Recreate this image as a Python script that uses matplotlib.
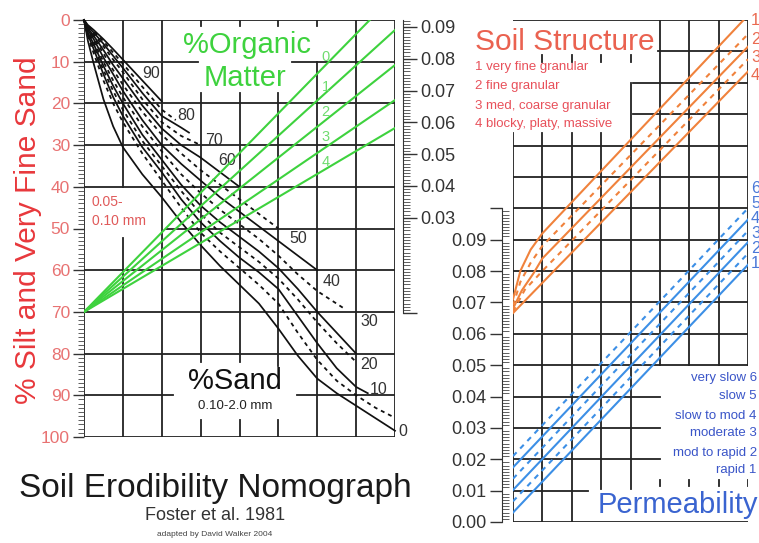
import matplotlib
matplotlib.use('Agg')
import numpy as np
import matplotlib.pyplot as plt
from matplotlib.ticker import FixedLocator, MultipleLocator

plt.rcParams['font.family'] = ['Liberation Sans', 'DejaVu Sans']

# ---- left panel: % silt + vfs (y) against grid column (x) ----
silt_ticks = [0, 10, 20, 30, 40, 50, 60, 70, 80, 90, 100]
k_ticks = [0.0, 0.03, 0.04, 0.05, 0.06, 0.07, 0.08, 0.09]
k_labels = ['', '0.03', '0.04', '0.05', '0.06', '0.07', '0.08', '0.09']

# %sand curves, upper-right to lower-left (col, %silt)
sand_cols = [0, 0.1, 0.25, 0.5, 0.75, 1, 1.5, 2, 2.5, 3, 3.5, 4, 4.5, 5,
             5.5, 6, 6.5, 7, 7.5, 8]
sand_1_x = sand_cols[:8]
sand_1_y = [0, 1.2, 2.4, 4.6, 7.0, 9.5, 14.5, 19.5]
sand_2_x = sand_cols[:8] + [2.36]
sand_2_y = [0, 1.4, 2.7, 5.1, 7.8, 10.5, 16.0, 21.5, 24.0]
sand_3_x = sand_cols[:9] + [2.7]
sand_3_y = [0, 1.6, 3.0, 5.7, 8.6, 11.5, 17.5, 23.0, 25.8, 27.0]
sand_4_x = sand_cols[:10]
sand_4_y = [0, 1.8, 3.4, 6.3, 9.5, 12.5, 19.0, 24.5, 27.8, 30.0]
sand_5_x = sand_cols[:12]
sand_5_y = [0, 2.0, 3.8, 7.2, 10.8, 14.0, 20.5, 26.0, 30.0, 33.0, 36.5, 40.0]
sand_6_x = sand_cols[:14]
sand_6_y = [0, 2.2, 4.2, 8.0, 12.0, 15.5, 22.0, 27.5, 32.0, 36.0, 39.5, 43.0,
            46.5, 50.0]
sand_7_x = sand_cols[:16]
sand_7_y = [0, 2.4, 4.6, 9.0, 13.0, 17.0, 24.0, 30.0, 34.5, 38.5, 42.5, 46.0,
            49.5, 53.0, 56.5, 60.0]
sand_8_x = sand_cols[:16] + [6.66]
sand_8_y = [0, 2.7, 5.2, 10.0, 14.5, 18.5, 25.5, 31.5, 37.0, 41.5, 45.5, 49.0,
            52.5, 56.5, 61.0, 65.0, 69.0]
sand_9_x = sand_cols[:18]
sand_9_y = [0, 3.0, 5.8, 11.0, 15.8, 20.0, 27.5, 33.5, 39.5, 44.5, 48.5, 52.0,
            55.5, 59.5, 64.5, 70.0, 75.0, 80.0]
sand_10_x = sand_cols[:18]
sand_10_y = [0, 3.2, 6.3, 12.0, 17.0, 21.5, 29.0, 35.0, 41.0, 46.5, 51.0, 54.5,
             58.0, 62.0, 67.0, 72.5, 77.5, 82.0]
sand_11_x = sand_cols[:18] + [7.3]
sand_11_y = [0, 3.5, 7.0, 13.0, 18.5, 23.0, 30.5, 36.5, 43.0, 48.5, 53.0, 57.0,
             60.5, 64.5, 71.0, 77.5, 83.5, 88.0, 89.5]
sand_12_x = sand_cols
sand_12_y = [0, 4.0, 8.0, 14.5, 20.0, 24.5, 32.0, 38.5, 45.0, 51.0, 55.5, 59.5,
             63.5, 68.0, 75.0, 81.5, 86.5, 90.0, 93.0, 95.4]
sand_13_x = sand_cols
sand_13_y = [0, 5.0, 10.5, 19.0, 25.5, 30.5, 37.0, 42.5, 48.5, 54.0, 59.0, 63.5,
             68.0, 74.0, 80.5, 86.0, 89.5, 92.5, 95.5, 98.5]

sand_labels = ['90', '80', '70', '60', '50', '40', '30', '20', '10', '0']
sand_label_x = [1.72, 2.62, 3.34, 3.68, 5.50, 6.38, 7.33, 7.33, 7.58, 8.20]
sand_label_y = [12.9, 22.8, 28.8, 33.6, 52.5, 62.6, 72.4, 82.7, 88.7, 98.8]

# organic matter lines, all from (0, 70)
om_labels = ['0', '1', '2', '3', '4']
om_end_x = [7.35, 8, 8, 8, 8]
om_end_y = [0, 2.4, 10.8, 19.2, 25.9]
om_label_y = [8.9, 16.1, 22.1, 28.1, 34.1]

# ---- right panel: K (y) ----
k2_ticks = [0.0, 0.01, 0.02, 0.03, 0.04, 0.05, 0.06, 0.07, 0.08, 0.09, 0.10]
k2_labels = ['0.00', '0.01', '0.02', '0.03', '0.04', '0.05', '0.06', '0.07',
             '0.08', '0.09', '']

struct_a_x = [0, 0.25, 0.6, 1.0, 7.85]
struct_a_y = [0.071, 0.0800, 0.0868, 0.0920, 0.160]
struct_b_x = [0, 0.25, 0.6, 1.0, 8]
struct_b_y = [0.069, 0.0765, 0.0826, 0.0880, 0.1555]
struct_c_x = [0, 0.3, 0.7, 1.0, 8]
struct_c_y = [0.068, 0.0738, 0.0793, 0.0840, 0.1515]
struct_d_x = [0, 0.4, 1.0, 8]
struct_d_y = [0.067, 0.0740, 0.0800, 0.1475]
struct_e_x = [0, 8]
struct_e_y = [0.0666, 0.1436]
struct_labels = ['1 very fine granular', '2 fine granular',
                 '3 med, coarse granular', '4 blocky, platy, massive']

perm_x = [0, 8]
perm_6 = [0.021, 0.100]
perm_5 = [0.0174, 0.0964]
perm_4 = [0.0138, 0.0928]
perm_3 = [0.0102, 0.0892]
perm_2 = [0.0066, 0.0856]
perm_1 = [0.003, 0.082]
perm_labels = ['very slow 6', 'slow 5', 'slow to mod 4', 'moderate 3',
               'mod to rapid 2', 'rapid 1']

W, H = 759, 543
fig = plt.figure(figsize=(W / 100, H / 100), dpi=100)

GRID = dict(color='#222222', lw=1.3, zorder=1)
SOLID = dict(color='#111111', lw=1.25, zorder=2, solid_joinstyle='round')
DASH = dict(color='#111111', lw=1.3, ls=(0, (2.2, 2.2)), zorder=2)
GREEN = '#3ed23e'

# ================= left panel =================
axL = fig.add_axes([84 / W, 1 - 437 / H, 311 / W, 417 / H])
axL.set_xlim(0, 8)
axL.set_ylim(100, 0)
for s in axL.spines.values():
    s.set_visible(False)
axL.set_xticks([])
axL.yaxis.set_major_locator(FixedLocator(silt_ticks))
axL.yaxis.set_minor_locator(MultipleLocator(1))
axL.tick_params(axis='y', which='major', length=8, width=1, color='#333333',
                labelsize=12.5, labelcolor='#e87272', pad=2)
axL.tick_params(axis='y', which='minor', length=4.5, width=0.6, color='#444444')

# grid with the gaps left for the labels
hseg = {10: [(0, 2.93), (5.35, 8)], 50: [(2.1, 8)], 90: [(0, 2.29), (5.48, 8)]}
for v in silt_ticks:
    for x0, x1 in hseg.get(v, [(0, 8)]):
        axL.plot([x0, x1], [v, v], **GRID)
vseg = {1: [(0, 40), (52.3, 100)], 3: [(0, 1.5), (17.5, 82), (96, 100)],
        4: [(0, 1.5), (17.5, 82), (96, 100)], 5: [(0, 1.5), (17.5, 83), (96, 100)],
        6: [(0, 1.5), (10, 100)]}
for c in range(9):
    for y0, y1 in vseg.get(c, [(0, 100)]):
        axL.plot([c, c], [y0, y1], **GRID)

sand_sets = [(sand_1_x, sand_1_y, SOLID), (sand_2_x, sand_2_y, DASH),
             (sand_3_x, sand_3_y, SOLID), (sand_4_x, sand_4_y, DASH),
             (sand_5_x, sand_5_y, SOLID), (sand_6_x, sand_6_y, DASH),
             (sand_7_x, sand_7_y, SOLID), (sand_8_x, sand_8_y, DASH),
             (sand_9_x, sand_9_y, SOLID), (sand_10_x, sand_10_y, DASH),
             (sand_11_x, sand_11_y, SOLID), (sand_12_x, sand_12_y, DASH),
             (sand_13_x, sand_13_y, SOLID)]
for xs, ys, st in sand_sets:
    axL.plot(xs, ys, clip_on=False, **st)
for lab, x, y in zip(sand_labels, sand_label_x, sand_label_y):
    axL.text(x, y, lab, fontsize=11.5, color='#333333', ha='center', va='center')

for xe, ye, lab, ly in zip(om_end_x, om_end_y, om_labels, om_label_y):
    axL.plot([0, xe], [70, ye], color=GREEN, lw=1.5, zorder=3)
    axL.text(6.22, ly, lab, fontsize=10.5, color='#6fdc6f', ha='center', va='center')

axL.text(4.19, 6.0, '%Organic', fontsize=21, color=GREEN, ha='center', va='center')
axL.text(4.14, 13.9, 'Matter', fontsize=21, color=GREEN, ha='center', va='center')
axL.text(0.2, 43.6, '0.05-', fontsize=10, color='#e05a5a', ha='left', va='center')
axL.text(0.2, 48.2, '0.10 mm', fontsize=10, color='#e05a5a', ha='left', va='center')
axL.text(3.88, 86.6, '%Sand', fontsize=21, color='#111111', ha='center', va='center')
axL.text(3.88, 92.6, '0.10-2.0 mm', fontsize=9.5, color='#222222', ha='center', va='center')

# K scale on the right of the left panel
axK = axL.twinx()
axK.set_ylim(-0.039, 0.0922)
for s in axK.spines.values():
    s.set_visible(False)
axK.spines['right'].set_visible(True)
axK.spines['right'].set_position(('outward', 6))
axK.spines['right'].set_bounds(0, 0.0922)
axK.spines['right'].set_color('#333333')
axK.yaxis.set_major_locator(FixedLocator(k_ticks))
axK.yaxis.set_minor_locator(FixedLocator(np.arange(0, 0.0925, 0.001)))
axK.set_yticklabels(k_labels)
axK.tick_params(axis='y', which='major', length=10, width=1, color='#333333',
                labelsize=13, labelcolor='#333333', pad=2)
axK.tick_params(axis='y', which='minor', length=5, width=0.6, color='#444444')

# ================= right panel =================
axR = fig.add_axes([513 / W, 1 - 522 / H, 235 / W, 502 / H])
axR.set_xlim(0, 8)
axR.set_ylim(0, 0.16)
for s in axR.spines.values():
    s.set_visible(False)
axR.spines['left'].set_visible(True)
axR.spines['left'].set_position(('outward', 8))
axR.spines['left'].set_bounds(0, 0.10)
axR.spines['left'].set_color('#333333')
axR.set_xticks([])
axR.yaxis.set_major_locator(FixedLocator(k2_ticks))
axR.set_yticklabels(k2_labels)
axR.yaxis.set_minor_locator(FixedLocator(np.arange(0, 0.1005, 0.001)))
axR.tick_params(axis='y', which='major', length=9, width=1, color='#333333',
                labelsize=13, labelcolor='#333333', pad=2)
axR.tick_params(axis='y', which='minor', direction='in', length=5, width=0.6,
                color='#444444')

hseg2 = {15: [(4.93, 8)], 14: [(4.08, 8)], 13: [(4.08, 8)], 4: [(0, 5)],
         3: [(0, 5)], 2: [(0, 5)], 1: [(0, 2.55)]}
for k in range(17):
    for x0, x1 in hseg2.get(k, [(0, 8)]):
        axR.plot([x0, x1], [k / 100, k / 100], **GRID)
vseg2 = {0: [(0, 0.124)], 1: [(0, 0.124), (0.1465, 0.149)],
         2: [(0, 0.124), (0.1465, 0.149)], 3: [(0.0105, 0.124), (0.1465, 0.149)],
         4: [(0.0105, 0.14), (0.1465, 0.149)]}
for c in range(9):
    for y0, y1 in vseg2.get(c, [(0.05, 0.16), (0.0115, 0.0135)]):
        axR.plot([c, c], [y0, y1], **GRID)

ORANGE = '#f0823c'
for xs, ys, ls in [(struct_a_x, struct_a_y, '-'), (struct_b_x, struct_b_y, (0, (2.5, 2.5))),
                   (struct_c_x, struct_c_y, '-'), (struct_d_x, struct_d_y, (0, (2.5, 2.5))),
                   (struct_e_x, struct_e_y, '-')]:
    axR.plot(xs, ys, color=ORANGE, lw=1.5, ls=ls, zorder=3)

BLUE = '#3c8fe6'
for ys, ls in [(perm_6, (0, (2.5, 2.5))), (perm_5, '-'), (perm_4, (0, (2.5, 2.5))),
               (perm_3, '-'), (perm_2, (0, (2.5, 2.5))), (perm_1, '-')]:
    axR.plot(perm_x, ys, color=BLUE, lw=1.5, ls=ls, zorder=3)

axR.text(-1.29, 0.1529, 'Soil Structure', fontsize=21.5, color='#ea6250',
         ha='left', va='center', clip_on=False)
for i, lab in enumerate(struct_labels):
    axR.text(-1.29, [0.1449, 0.1389, 0.1325, 0.1268][i], lab, fontsize=9.5,
             color='#e8505a', ha='left', va='center', clip_on=False)
for lab, y in zip(['1', '2', '3', '4'], [0.1599, 0.1538, 0.1481, 0.1424]):
    axR.text(8.1, y, lab, fontsize=12, color='#ea6a50', ha='left', va='center',
             clip_on=False)
for lab, y in zip(['6', '5', '4', '3', '2', '1'],
                  [0.1064, 0.1016, 0.0968, 0.0920, 0.0873, 0.0825]):
    axR.text(8.1, y, lab, fontsize=12, color='#4a78d8', ha='left', va='center',
             clip_on=False)
for lab, y in zip(perm_labels, [0.0459, 0.0401, 0.0338, 0.0283, 0.0220, 0.0166]):
    axR.text(8.30, y, lab, fontsize=9.5, color='#3a55c8', ha='right', va='center',
             clip_on=False)
axR.text(8.33, 0.0054, 'Permeability', fontsize=21, color='#3a64d0',
         ha='right', va='center', clip_on=False)

# ================= titles =================
fig.text(28 / W, 1 - 230 / H, '% Silt and Very Fine Sand', rotation=90,
         fontsize=21.5, color='#e8383c', ha='center', va='center')
fig.text(215 / W, 1 - 488 / H, 'Soil Erodibility Nomograph', fontsize=24,
         color='#1a1a1a', ha='center', va='center')
fig.text(215 / W, 1 - 515 / H, 'Foster et al. 1981', fontsize=13,
         color='#333333', ha='center', va='center')
fig.text(215 / W, 1 - 535 / H, 'adapted by David Walker 2004', fontsize=6,
         color='#444444', ha='center', va='center')

fig.savefig('out.png', dpi=100, facecolor='white')
